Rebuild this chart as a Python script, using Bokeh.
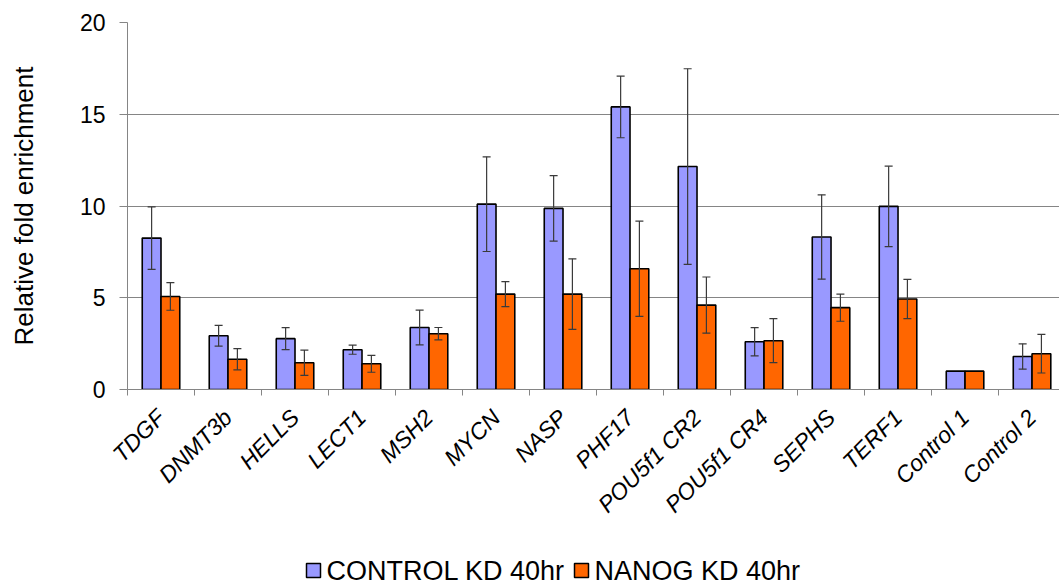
import math
from bokeh.plotting import figure
from bokeh.layouts import column
from bokeh.models import ColumnDataSource, Range1d, FixedTicker, Whisker, TeeHead
from bokeh.core.properties import value
from bokeh.embed import file_html
from bokeh.resources import INLINE

genes = ["TDGF", "DNMT3b", "HELLS", "LECT1", "MSH2", "MYCN", "NASP", "PHF17",
         "POU5f1 CR2", "POU5f1 CR4", "SEPHS", "TERF1", "Control 1", "Control 2"]
control_kd = [8.25, 2.93, 2.77, 2.17, 3.38, 10.1, 9.87, 15.4, 12.15, 2.6, 8.31, 9.98, 1.0, 1.8]
control_err = [1.7, 0.57, 0.6, 0.25, 0.95, 2.58, 1.78, 1.68, 5.33, 0.77, 2.3, 2.19, 0.0, 0.69]
nanog_kd = [5.07, 1.65, 1.46, 1.4, 3.04, 5.2, 5.2, 6.58, 4.6, 2.66, 4.46, 4.93, 1.0, 1.95]
nanog_err = [0.75, 0.58, 0.69, 0.46, 0.34, 0.68, 1.92, 2.6, 1.53, 1.2, 0.74, 1.07, 0.0, 1.05]
series_names = ["CONTROL KD 40hr", "NANOG KD 40hr"]

FONT = "Liberation Sans"
BLUE = "#9999FF"
ORANGE = "#FF6600"
GRID = "#858585"

bar_w = 0.28
n = len(genes)
centers = [i + 0.5 for i in range(n)]
x_ctrl = [c - bar_w / 2 for c in centers]
x_nanog = [c + bar_w / 2 for c in centers]

p = figure(width=1059, height=540, output_backend="svg", toolbar_location=None,
           x_range=Range1d(0, 13.91), y_range=Range1d(0, 20),
           min_border_left=127, min_border_right=0, min_border_top=22,
           min_border_bottom=151)
p.outline_line_color = None
p.background_fill_color = "white"

src_c = ColumnDataSource(dict(x=x_ctrl, top=control_kd))
src_n = ColumnDataSource(dict(x=x_nanog, top=nanog_kd))
p.vbar(x="x", top="top", width=bar_w, source=src_c, fill_color=BLUE,
       line_color="black", line_width=1.6)
p.vbar(x="x", top="top", width=bar_w, source=src_n, fill_color=ORANGE,
       line_color="black", line_width=1.6)


def add_err(xs, vals, errs):
    keep = [i for i, e in enumerate(errs) if e > 0]
    src = ColumnDataSource(dict(
        base=[xs[i] for i in keep],
        lower=[vals[i] - errs[i] for i in keep],
        upper=[vals[i] + errs[i] for i in keep]))
    w = Whisker(source=src, base="base", lower="lower", upper="upper",
                line_color="#3a3a3a", line_width=1.2, level="overlay",
                upper_head=TeeHead(size=8, line_color="#3a3a3a", line_width=1.2),
                lower_head=TeeHead(size=8, line_color="#3a3a3a", line_width=1.2))
    p.add_layout(w)


add_err(x_ctrl, control_kd, control_err)
add_err(x_nanog, nanog_kd, nanog_err)

# y axis
p.yaxis.ticker = FixedTicker(ticks=[0, 5, 10, 15, 20])
p.yaxis.axis_label = "Relative fold enrichment"
p.yaxis.axis_label_text_font = FONT
p.yaxis.axis_label_text_font_size = "26px"
p.yaxis.axis_label_text_font_style = "normal"
p.yaxis.axis_label_text_color = "black"
p.yaxis.axis_label_standoff = 38
p.yaxis.major_label_text_font = FONT
p.yaxis.major_label_text_font_size = "23px"
p.yaxis.major_label_text_color = "black"
p.yaxis.major_label_standoff = 14
p.yaxis.major_tick_out = 8
p.yaxis.major_tick_in = 0
p.yaxis.minor_tick_line_color = None
p.yaxis.axis_line_color = GRID
p.yaxis.major_tick_line_color = GRID
p.ygrid.grid_line_color = GRID
p.ygrid.grid_line_width = 1
p.xgrid.grid_line_color = None

# x axis: labels at group centres, tick marks at group boundaries
p.xaxis.ticker = FixedTicker(ticks=centers, minor_ticks=list(range(n + 1)))
p.xaxis.major_label_overrides = {c: g for c, g in zip(centers, genes)}
p.xaxis.major_tick_line_color = None
p.xaxis.minor_tick_line_color = GRID
p.xaxis.minor_tick_out = 6
p.xaxis.minor_tick_in = 0
p.xaxis.axis_line_color = GRID
p.xaxis.major_label_orientation = math.pi / 4
p.xaxis.major_label_text_font = FONT
p.xaxis.major_label_text_font_size = "23px"
p.xaxis.major_label_text_font_style = "italic"
p.xaxis.major_label_text_color = "black"
p.xaxis.major_label_standoff = 18

# legend strip under the chart, laid out in pixel units
lg = figure(width=1059, height=46, output_backend="svg", toolbar_location=None,
            x_range=Range1d(127, 1059), y_range=Range1d(0, 46),
            min_border_left=0, min_border_right=0, min_border_top=0,
            min_border_bottom=0)
lg.axis.visible = False
lg.grid.visible = False
lg.outline_line_color = None

key_left = [306, 574]     # left edge of each colour key
row_y = 16                # vertical centre of the legend row
key_size = 14
lg.rect(x=[k + key_size / 2 for k in key_left], y=[row_y, row_y],
        width=key_size, height=key_size, width_units="screen",
        height_units="screen", fill_color=[BLUE, ORANGE], line_color="black",
        line_width=1.5)
lg.text(x=[k + key_size + 6 for k in key_left], y=[row_y, row_y],
        text=series_names, text_font=value(FONT), text_font_size="27px",
        text_baseline="middle", text_align="left", text_color="black")

open("out.html", "w").write(file_html(column(p, lg, spacing=0), INLINE))
